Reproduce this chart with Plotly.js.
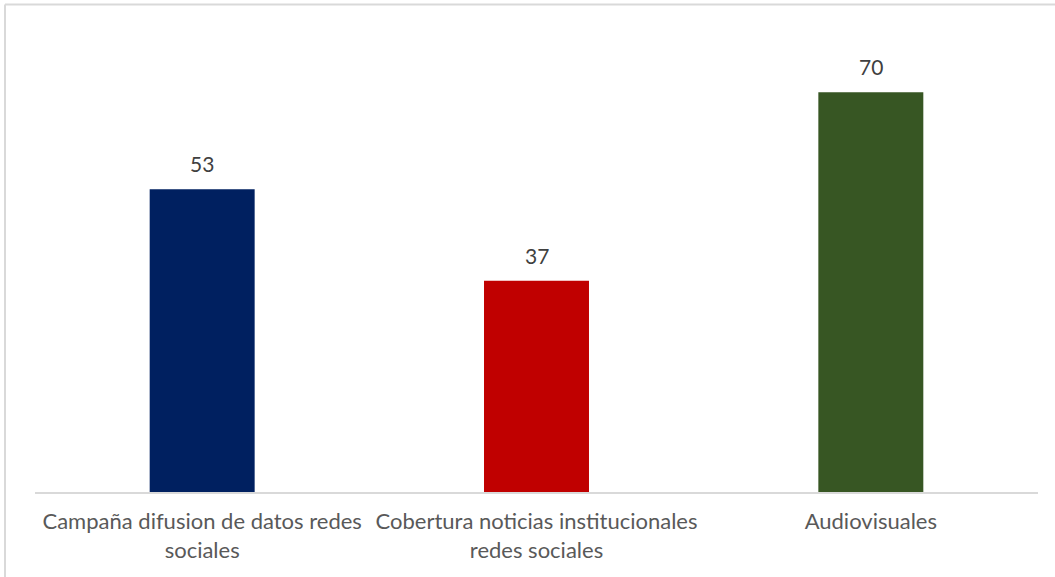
<!DOCTYPE html>
<html>
<head>
<meta charset="utf-8">
<script src="https://cdn.plot.ly/plotly-3.0.1.min.js"></script>
<style>html,body{margin:0;padding:0;background:#fff;}#chart{width:1055px;height:577px;}</style>
</head>
<body>
<div id="chart"></div>
<script>
const categories = ["Campaña difusion de datos redes<br>sociales", "Cobertura noticias institucionales<br>redes sociales", "Audiovisuales"];
const values = [53, 37, 70];
const barColors = ["#002060", "#C00000", "#375623"];

const trace = {
  type: "bar",
  x: categories,
  y: values,
  marker: {color: barColors},
  hoverinfo: "none"
};

const annotations = categories.map((c, i) => ({
  x: c, y: values[i], xref: "x", yref: "y",
  text: String(values[i]), showarrow: false,
  yanchor: "bottom", yshift: 11,
  font: {family: "Lato, 'Open Sans', sans-serif", size: 21, color: "#404040"}
}));

const layout = {
  width: 1055, height: 577,
  margin: {l: 35, r: 17, t: 35, b: 85},
  paper_bgcolor: "#ffffff", plot_bgcolor: "#ffffff",
  bargap: 0.686,
  showlegend: false,
  xaxis: {
    showline: true, linecolor: "#d9d9d9", linewidth: 2,
    ticks: "", showgrid: false, zeroline: false,
    ticklabelstandoff: 9,
    tickfont: {family: "Lato, 'Open Sans', sans-serif", size: 22, color: "#595959"}
  },
  yaxis: {
    range: [0, 80], visible: false, showgrid: false, zeroline: false
  },
  annotations: annotations,
  shapes: [
    {type: "line", xref: "paper", yref: "paper", x0: -0.0299, x1: 1.05, y0: 1.0668, y1: 1.0668, line: {color: "#d9d9d9", width: 2}},
    {type: "line", xref: "paper", yref: "paper", x0: -0.0299, x1: -0.0299, y0: -0.2, y1: 1.0668, line: {color: "#d9d9d9", width: 2}}
  ]
};

Plotly.newPlot("chart", [trace], layout, {displayModeBar: false, staticPlot: true});
</script>
</body>
</html>
